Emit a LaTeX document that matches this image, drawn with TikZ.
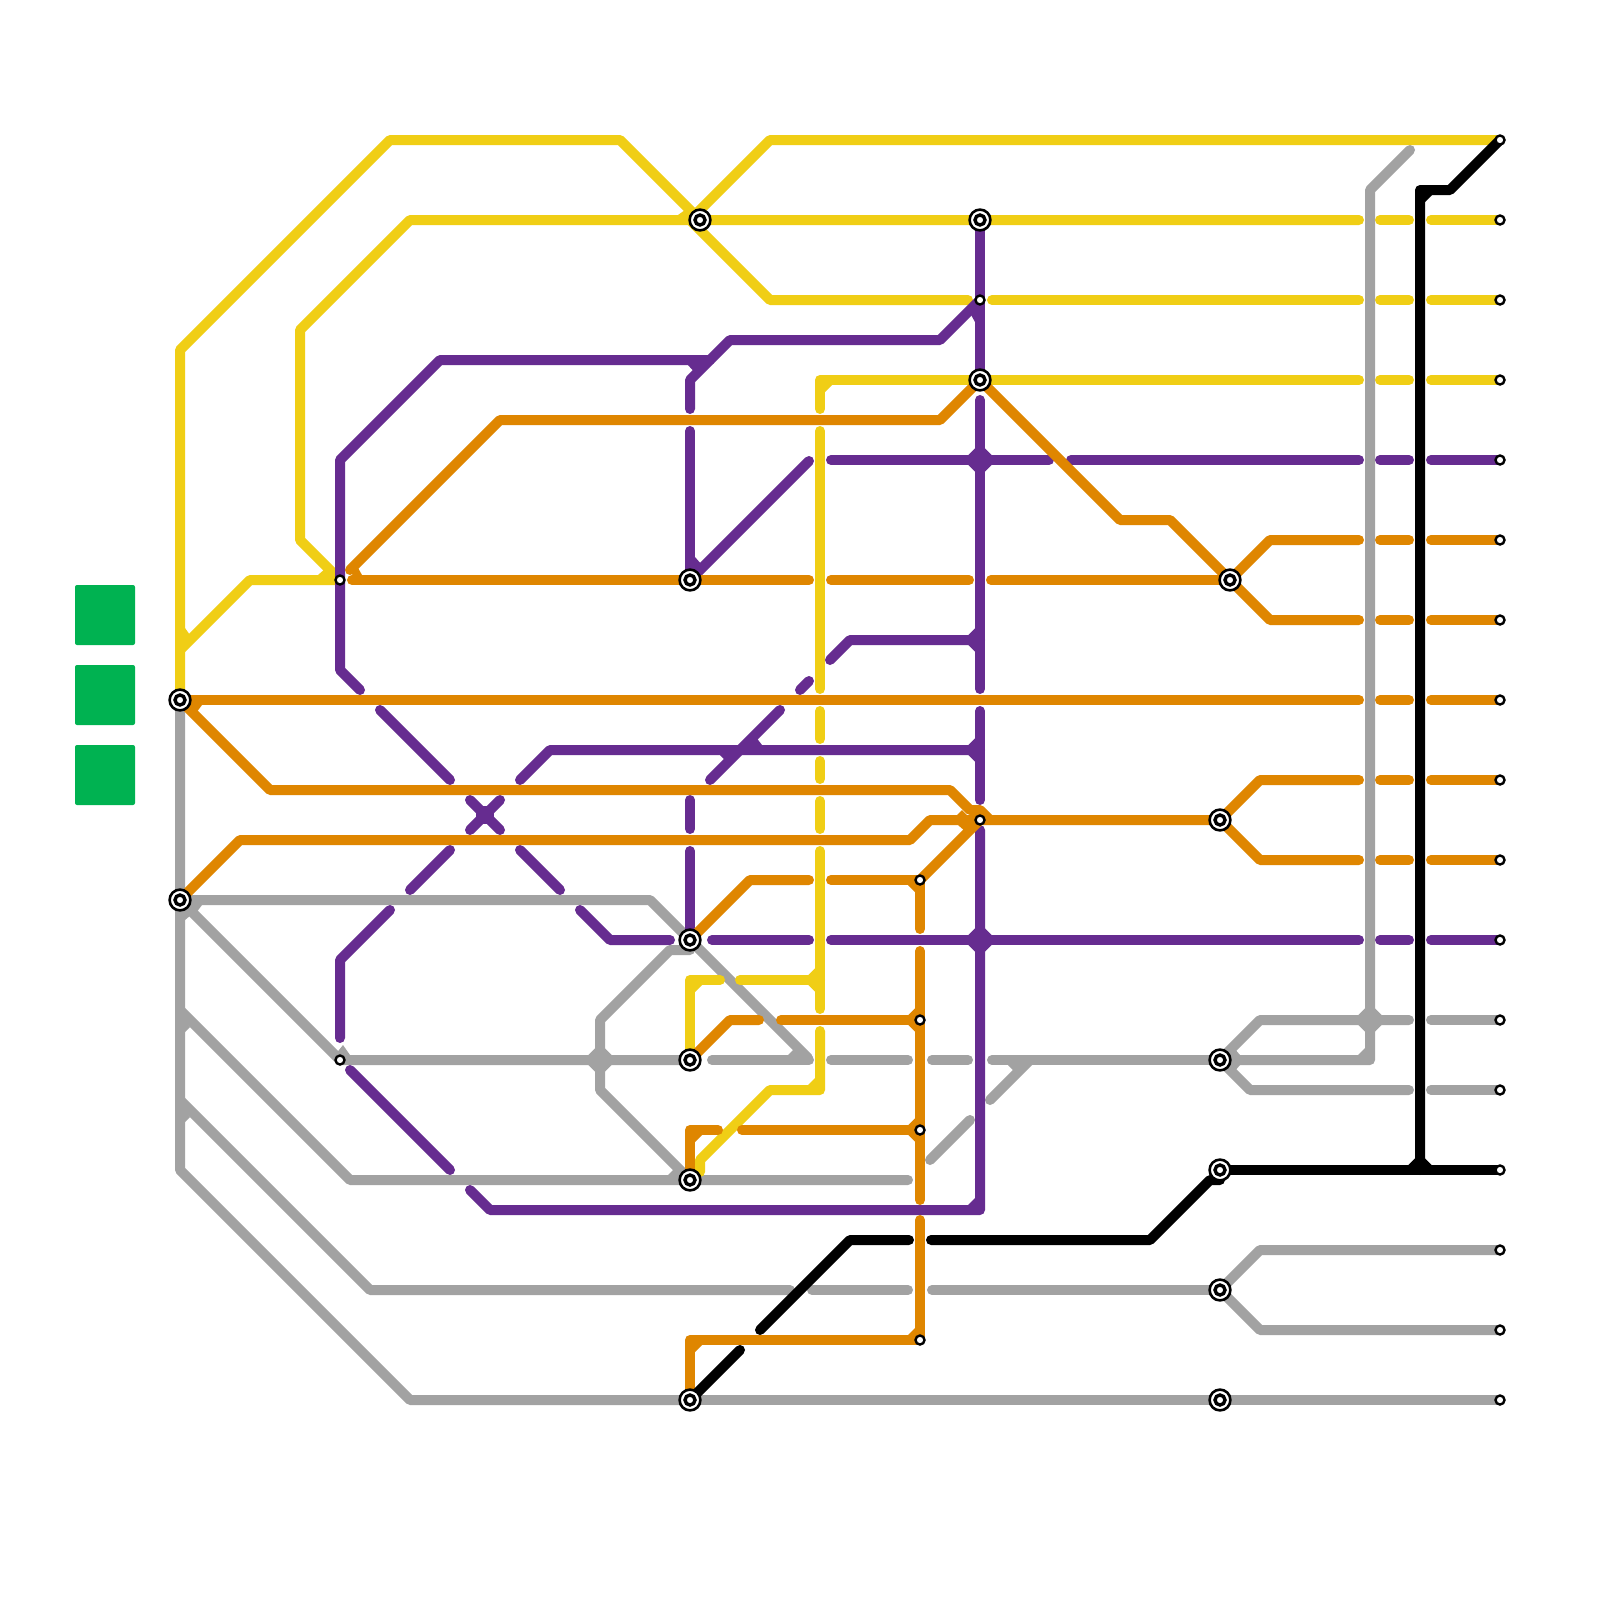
\documentclass[tikz,border=0pt]{standalone}
\usepackage{xcolor}
\usepackage{tikz}
\usetikzlibrary{backgrounds,calc}
\definecolor{LineYellow}{HTML}{F0CE15}
\definecolor{LineOrange}{HTML}{DF8600}
\definecolor{LinePurple}{HTML}{662C90}
\definecolor{LineGrey}{HTML}{A2A2A2}
\definecolor{KeyGreen}{HTML}{00B251}
% full diamond, half diamond and inner corner of a line
\newcommand{\crossat}[2]{\fill[#1] ($(#2)+(.83,0)$) -- ($(#2)+(0,.83)$) -- ($(#2)+(-.83,0)$) -- ($(#2)+(0,-.83)$) -- cycle;}
\newcommand{\teeat}[4]{\fill[#1] ($(#2)+(#3,#4)$) -- ($(#2)+(#4,#3)$) -- ($(#2)-(#4,#3)$) -- cycle;}
\newcommand{\bevelat}[4]{\fill[#1] ($(#2)+(#3*.25,#4*.25)$) -- ($(#2)+(#3*.6,#4*.25)$) -- ($(#2)+(#3*.25,#4*.6)$) -- cycle;}

\begin{document}
\begin{tikzpicture}[
  x=.5cm, y=-.5cm,
  rail/.style={line width=2.5mm, line cap=round, line join=round},
  ylw/.style={rail, LineYellow},
  org/.style={rail, LineOrange},
  prp/.style={rail, LinePurple},
  gry/.style={rail, LineGrey},
  blk/.style={rail, black},
  stnbig/.style={circle, draw=black, fill=white, line width=.65mm,
                 minimum size=5.2mm, inner sep=0pt, outer sep=0pt},
  stndot/.style={circle, draw=black, fill=white, line width=.85mm,
                 minimum size=2.5mm, inner sep=0pt, outer sep=0pt},
  stnsmall/.style={circle, draw=black, fill=white, line width=.6mm,
                   minimum size=2.25mm, inner sep=0pt, outer sep=0pt},
  keybox/.style={fill=KeyGreen, rounded corners=.5mm, minimum size=15mm,
                 inner sep=0pt, outer sep=0pt},
]

  \useasboundingbox (0,0) rectangle (80,80);

  % Key squares
  \node[keybox] (keyA) at (5.25,30.75) {};
  \node[keybox] (keyB) at (5.25,34.75) {};
  \node[keybox] (keyC) at (5.25,38.75) {};

  % Interchanges
  \foreach \nm/\px/\py in {wa/9/35, wb/9/45, na/35/11, nb/49/11, nc/49/19,
                           ma/34.5/29, mb/34.5/47, mc/34.5/53, md/34.5/59, me/34.5/70,
                           ea/61.5/29, eb/61/41, ec/61/53, ed/61/58.5, ee/61/64.5, ef/61/70} {
    \node[stnbig] (\nm) at (\px,\py) {};
    \node[stndot] (\nm dot) at (\nm) {};
  }

  % Small stops
  \foreach \nm/\px/\py in {ta/17/29, tb/17/53, tc/49/15, td/49/41,
                           te/46/44, tf/46/51, tg/46/56.5, th/46/67}
    \node[stnsmall] (\nm) at (\px,\py) {};

  % Line ends on the right
  \foreach \y [count=\i] in {7,11,15,19,23,27,31,35,39,43,47,51,54.5,58.5,62.5,66.5,70}
    \node[stnsmall] (r\i) at (75,\y) {};

  \begin{scope}[on background layer]
    \fill[white] (0,0) rectangle (80,80);

    % Grey lines
    \draw[gry] (wa.center) -- (9,58.5) -- (20.5,70) -- (me.center);
    \draw[gry] (me.center) -- (ef.center) -- (r17.center);
    \draw[gry] (wb.center) -- (32.5,45) -- (40.4,52.9);
    \draw[gry] (wb.center) -- (tb.center) -- (mc.center);
    \draw[gry] (35.6,53) -- (40.45,53);
    \draw[gry] (41.55,53) -- (45.4,53);
    \draw[gry] (46.6,53) -- (48.4,53);
    \draw[gry] (49.6,53) -- (ec.center);
    \draw[gry] (9,50.5) -- (17.5,59) -- (45.4,59);
    \draw[gry] (9,55) -- (18.5,64.5) -- (39.5,64.5);
    \draw[gry] (40.6,64.5) -- (45.4,64.5);
    \draw[gry] (46.6,64.5) -- (ee.center);
    \draw[gry] (ee.center) -- (63,62.5) -- (r15.center);
    \draw[gry] (ee.center) -- (63,66.5) -- (r16.center);
    \draw[gry] (ec.center) -- (63,51) -- (70.45,51);
    \draw[gry] (71.55,51) -- (r12.center);
    \draw[gry] (ec.center) -- (62.5,54.5) -- (70.45,54.5);
    \draw[gry] (71.55,54.5) -- (r13.center);
    \draw[gry] (ec.center) -- (68.5,53) -- (68.5,9.5) -- (70.5,7.5);
    \draw[gry] (md.center) -- (30,54.5) -- (30,51) -- (33.5,47.5) -- (34.5,47.5);
    \draw[gry] (51.5,53) -- (49.5,55);
    \draw[gry] (48.5,56) -- (46.5,58);
    \crossat{LineGrey}{30,53}
    \crossat{LineGrey}{68.5,51}
    \bevelat{LineGrey}{68.5,53}{-1}{-1}
    \fill[LineGrey] (39.4,52.75) -- (39.75,52.4) -- (40,52.75) -- cycle;
    \fill[LineGrey] (33.4,58.75) -- (33.75,58.4) -- (34,58.75) -- cycle;
    \fill[LineGrey] (50.4,53.25) -- (50.75,53.6) -- (51.1,53.25) -- cycle;
    \fill[LineGrey] (16.75,52.75) -- (17.15,52.25) -- (17.5,52.75) -- cycle;
    \fill[LineGrey] (9.5,45.25) -- (10.1,45.25) -- (9.8,45.65) -- (9.5,45.4) -- cycle;
    \fill[LineGrey] (9.25,45.5) -- (9.55,45.75) -- (9.25,46) -- cycle;
    \fill[LineGrey] (9.25,51) -- (9.5,51.35) -- (9.25,51.6) -- cycle;
    \fill[LineGrey] (9.25,55.5) -- (9.5,55.85) -- (9.25,56.1) -- cycle;
    \fill[LineGrey] (61.6,52.75) -- (62,52.75) -- (61.7,52.4) -- cycle;
    \fill[LineGrey] (61.6,53.25) -- (62,53.25) -- (61.7,53.6) -- cycle;

    % Yellow lines
    \draw[ylw] (wa.center) -- (9,17.5) -- (19.5,7) -- (31,7) -- (na.center);
    \draw[ylw] (34.5,11) -- (38.5,7) -- (r1.center);
    \draw[ylw] (34.5,11) -- (38.5,15) -- (48.4,15);
    \draw[ylw] (49.6,15) -- (67.95,15);
    \draw[ylw] (ta.center) -- (15,27) -- (15,16.5) -- (20.5,11) -- (67.95,11);
    \draw[ylw] (ta.center) -- (12.5,29) -- (9,32.5);
    \draw[ylw] (41,20.45) -- (41,19) -- (67.95,19);
    \draw[ylw] (41,21.55) -- (41,34.45);
    \draw[ylw] (41,35.55) -- (41,36.95);
    \draw[ylw] (41,38.05) -- (41,38.95);
    \draw[ylw] (41,40.05) -- (41,41.45);
    \draw[ylw] (41,42.55) -- (41,50.45);
    \draw[ylw] (41,51.55) -- (41,54.5) -- (38.5,54.5) -- (35,58) -- (35,58.6);
    \draw[ylw] (mc.center) -- (34.5,49) -- (36,49);
    \draw[ylw] (37,49) -- (41,49);
    \teeat{LineYellow}{41,49}{-.83}{0}
    \bevelat{LineYellow}{41,19}{1}{1}
    \bevelat{LineYellow}{34.5,49}{1}{1}
    \bevelat{LineYellow}{41,54.5}{-1}{-1}
    \fill[LineYellow] (9.25,31.4) -- (9.5,31.75) -- (9.25,32) -- cycle;
    \fill[LineYellow] (15.9,28.75) -- (16.3,28.4) -- (16.75,28.75) -- cycle;
    \fill[LineYellow] (33.9,10.75) -- (34.25,10.5) -- (34.5,10.75) -- cycle;

    % Purple lines
    \draw[prp] (nb.center) -- (nc.center);
    \draw[prp] (49,20) -- (49,34.45);
    \draw[prp] (49,35.55) -- (49,40);
    \draw[prp] (49,41.5) -- (49,60.5) -- (24.5,60.5) -- (23.5,59.5);
    \draw[prp] (22.5,58.5) -- (17.5,53.5);
    \draw[prp] (17,51.9) -- (17,48) -- (19.5,45.5);
    \draw[prp] (20.5,44.5) -- (22.5,42.5);
    \draw[prp] (23.5,41.5) -- (25,40);
    \draw[prp] (26,39) -- (27.5,37.5) -- (49,37.5);
    \draw[prp] (tc.center) -- (47,17) -- (36.5,17) -- (34.5,19) -- (34.5,20.45);
    \draw[prp] (34.5,21.55) -- (ma.center);
    \draw[prp] (ma.center) -- (40.45,23.05);
    \draw[prp] (35.5,18) -- (22,18) -- (17,23) -- (17,33.5) -- (18,34.5);
    \draw[prp] (19,35.5) -- (22.5,39);
    \draw[prp] (23.5,40) -- (25,41.5);
    \draw[prp] (26,42.5) -- (28,44.5);
    \draw[prp] (29,45.5) -- (30.5,47) -- (33.5,47);
    \draw[prp] (35.6,47) -- (40.45,47);
    \draw[prp] (41.55,47) -- (67.95,47);
    \draw[prp] (41.55,23) -- (52.45,23);
    \draw[prp] (53.55,23) -- (67.95,23);
    \draw[prp] (41.5,33) -- (42.5,32) -- (49,32);
    \draw[prp] (40.45,34.05) -- (40,34.5);
    \draw[prp] (39,35.5) -- (35.5,39);
    \draw[prp] (34.5,40) -- (34.5,41.45);
    \draw[prp] (34.5,42.55) -- (mb.center);
    \crossat{LinePurple}{49,23}
    \crossat{LinePurple}{49,47}
    \teeat{LinePurple}{49,32}{-.83}{0}
    \teeat{LinePurple}{49,37.5}{-.83}{0}
    \bevelat{LinePurple}{49,60.5}{-1}{-1}
    \fill[LinePurple] (23.8,40.3) rectangle (24.7,41.2);
    \fill[LinePurple] (34.4,18.25) -- (35,18.25) -- (34.85,18.75) -- cycle;
    \fill[LinePurple] (48.5,15.65) -- (48.75,15.4) -- (48.75,16.1) -- cycle;
    \fill[LinePurple] (34.75,27.85) -- (35.1,28.25) -- (34.75,28.5) -- cycle;
    \fill[LinePurple] (36,37.75) -- (36.33,38.08) -- (36.67,37.75) -- cycle;
    \fill[LinePurple] (37.5,37.25) -- (37.83,36.9) -- (38.1,37.25) -- cycle;

    % Orange lines
    \draw[org] (wa.center) -- (67.95,35);
    \draw[org] (wa.center) -- (13.5,39.5) -- (47.5,39.5) -- (48.5,40.5) -- (49,40.5) -- (49.5,41);
    \draw[org] (wb.center) -- (12,42) -- (45.5,42) -- (46.5,41) -- (eb.center);
    \draw[org] (te.center) -- (td.center);
    \draw[org] (mb.center) -- (37.5,44) -- (40.45,44);
    \draw[org] (41.55,44) -- (te.center) -- (46,46.45);
    \draw[org] (46,47.55) -- (46,60);
    \draw[org] (46,61) -- (th.center) -- (34.5,67) -- (me.center);
    \draw[org] (mc.center) -- (36.5,51) -- (37.95,51);
    \draw[org] (39.05,51) -- (tf.center);
    \draw[org] (md.center) -- (34.5,56.5) -- (35.9,56.5);
    \draw[org] (37.1,56.5) -- (tg.center);
    \draw[org] (17.6,29) -- (40.45,29);
    \draw[org] (41.55,29) -- (48.45,29);
    \draw[org] (49.55,29) -- (ea.center);
    \draw[org] (17.5,28.5) -- (25,21) -- (47,21) -- (nc.center) -- (56,26) -- (58.5,26) -- (ea.center) -- (63.5,31) -- (67.95,31);
    \draw[org] (ea.center) -- (63.5,27) -- (67.95,27);
    \draw[org] (eb.center) -- (63,39) -- (67.95,39);
    \draw[org] (eb.center) -- (63,43) -- (67.95,43);
    \teeat{LineOrange}{46,51}{-.83}{0}
    \teeat{LineOrange}{46,56.5}{-.83}{0}
    \bevelat{LineOrange}{46,44}{-1}{1}
    \bevelat{LineOrange}{46,67}{-1}{-1}
    \bevelat{LineOrange}{34.5,56.5}{1}{1}
    \bevelat{LineOrange}{34.5,67}{1}{1}
    \fill[LineOrange] (17.6,28.75) -- (17.85,28.3) -- (18.1,28.75) -- cycle;
    \fill[LineOrange] (9.5,35.25) -- (10.1,35.25) -- (9.8,35.65) -- (9.5,35.4) -- cycle;
    \fill[LineOrange] (47.85,40.75) -- (48.1,40.5) -- (48.35,40.75) -- cycle;
    \fill[LineOrange] (47.9,41.25) -- (48.3,41.6) -- (48.6,41.25) -- cycle;

    % Black lines
    \draw[blk] (r1.center) -- (72.5,9.5) -- (71,9.5) -- (71,58.5);
    \draw[blk] (ed.center) -- (r14.center);
    \draw[blk] (61,59) -- (60.5,59) -- (57.5,62) -- (46.55,62);
    \draw[blk] (45.45,62) -- (42.5,62) -- (38,66.5);
    \draw[blk] (37,67.5) -- (me.center);
    \teeat{black}{71,58.5}{0}{-.83}
    \bevelat{black}{71,9.5}{1}{1}

    % Stubs to the right of the two long verticals
    \foreach \lsty/\y in {ylw/11, ylw/15, ylw/19, prp/23, org/27, org/31,
                          org/35, org/39, org/43, prp/47} {
      \draw[\lsty] (69,\y) -- (70.45,\y);
      \draw[\lsty] (71.55,\y) -- (75,\y);
    }
  \end{scope}

\end{tikzpicture}
\end{document}
